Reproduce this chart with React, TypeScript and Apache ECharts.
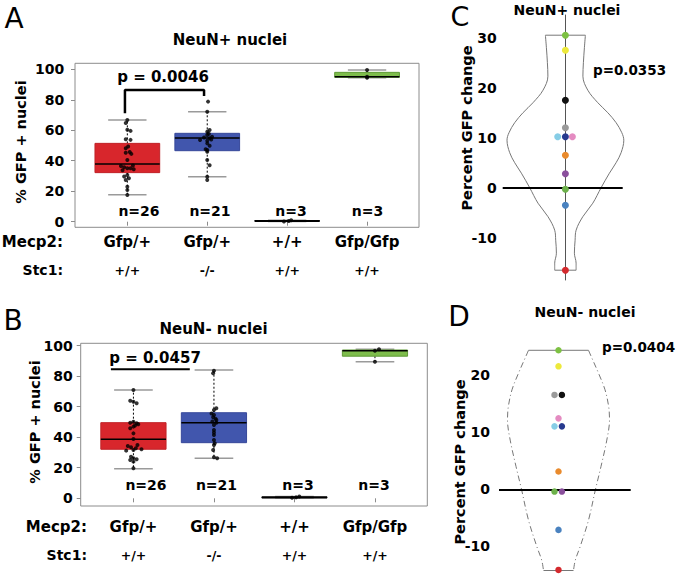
import React, { useEffect, useRef } from 'react';
import * as echarts from 'echarts';

const FONT = 'DejaVu Sans';

// ---------- Panels A & B: categories ----------
const mecp2Labels = ['Gfp/+', 'Gfp/+', '+/+', 'Gfp/Gfp'];
const stc1Labels = ['+/+', '-/-', '+/+', '+/+'];
const groupFill = ['#d8262c', '#4156ad', '#666666', '#7ebd4c'];
const groupStroke = ['#c02328', '#37489a', '#000000', '#5f9a36'];
const yTicksAB = [0, 20, 40, 60, 80, 100];

// box stats: [low whisker, Q1, median, Q3, high whisker]
const boxA = [
  [17.7, 32.2, 37.9, 51.4, 66.7],
  [29.5, 46.6, 54.9, 58.0, 72.2],
  [0.2, 0.35, 0.5, 0.7, 0.9],
  [94.4, 94.75, 95.1, 98.0, 99.5],
];
const boxB = [
  [19.4, 32.1, 38.6, 49.5, 70.9],
  [26.2, 36.4, 49.5, 56.0, 84.0],
  [0.3, 0.45, 0.6, 0.9, 1.2],
  [89.4, 93.0, 96.6, 97.05, 97.5],
];

// individual points (% GFP+ nuclei) and horizontal jitter (category units)
const ptsA1 = [66.7, 64.7, 60.3, 59.6, 54.1, 53.7, 49.3, 48.2, 45.8, 45.3, 44.5, 40.5, 36.9, 36.6, 35.7, 35.1, 35.1, 34.4, 33.8, 30.7, 29.6, 28.5, 27.4, 23.0, 20.8, 17.5];
const jitA1 = [0, -0.02, 0, 0.04, -0.02, 0.04, 0.01, -0.02, 0.03, -0.02, 0.05, 0, 0.07, -0.08, -0.04, 0, 0.04, 0.08, -0.06, 0, -0.04, 0.02, -0.02, 0, 0, 0];
const ptsA2 = [78.8, 72.2, 60.2, 59.1, 57.7, 56.9, 55.8, 55.2, 54.7, 53.9, 53.6, 53.1, 51.4, 49.9, 47.6, 47.0, 45.9, 40.5, 37.1, 29.5, 27.3];
const jitA2 = [0.01, 0, 0.03, 0, 0.02, 0, 0.06, -0.04, 0.03, 0.05, -0.09, 0, 0, 0.03, -0.02, 0, 0, 0, 0.03, 0, 0];
const ptsA3 = [0.2, 0.5, 0.9];
const jitA3 = [-0.04, 0.02, 0.05];
const ptsA4 = [99.5, 95.1, 94.4];
const jitA4 = [0, 0, 0];

const ptsB1 = [70.9, 63.9, 63.2, 62.2, 50.1, 49.5, 49.1, 48.4, 47.6, 46.9, 45.8, 42.5, 38.8, 34.9, 34.2, 33.4, 32.7, 32.1, 31.6, 31.2, 27.2, 26.2, 25.5, 25.0, 24.0, 19.6];
const jitB1 = [0, -0.04, 0, 0.04, 0, -0.04, 0.04, 0.06, 0.02, 0, -0.04, 0, 0, 0.05, -0.07, -0.03, 0.03, 0.1, 0, -0.09, -0.03, 0, 0.04, -0.04, 0, 0];
const ptsB2 = [83.5, 81.8, 58.9, 57.8, 55.5, 54.5, 53.0, 52.0, 51.2, 50.2, 49.5, 48.0, 44.7, 43.0, 41.4, 38.2, 36.0, 34.9, 31.6, 26.8, 26.2];
const jitB2 = [0, -0.01, 0.03, 0, -0.03, 0, -0.01, 0.02, 0.03, -0.02, 0.03, 0, 0, 0, 0, 0, 0.01, 0, -0.01, 0, 0.04];
const ptsB3 = [0.3, 0.6, 1.2];
const jitB3 = [-0.03, 0.02, 0.06];
const ptsB4 = [97.5, 96.6, 89.4];
const jitB4 = [0.05, 0, 0];

const pValueA = 'p = 0.0046';
const pValueB = 'p = 0.0457';
// bracket (A) and bar (B) in data units: [category x, value]
const bracketA = [[0.97, 71.1], [0.97, 86.4], [1.96, 86.4], [1.96, 82.5]];
const barB = [[0.72, 84.4], [1.7, 84.4]];

// ---------- Panels C & D: violins ----------
const violinCv = [30.5, 28, 25, 22.3, 19.5, 17, 15, 13, 11, 9.5, 7, 5, 2.9, 0, -3.1, -5.8, -8.5, -10.5, -13.1, -15.1, -16.5];
const violinChw = [20, 19, 18, 17.5, 22.4, 32.4, 42.4, 50.7, 56.4, 58.4, 55.7, 50.7, 44, 35.7, 27.4, 17.4, 10.7, 9.7, 9, 10.7, 10.7];
const violinDv = [24.3, 22.9, 20.3, 17.4, 14.4, 12.1, 8.6, 4, 0, -5.4, -10, -12.4, -14.2];
const violinDhw = [30, 33.5, 40, 46.5, 50.2, 51, 48.3, 42.5, 37, 30, 21.7, 16.8, 15];

const dotColorsC = ['#7dc142', '#ede93b', '#111111', '#9a9a9a', '#86cde6', '#273a8f', '#e48bc1', '#e98a2c', '#8a4f9c', '#6cb14a', '#4a82bf', '#d42a2e'];
const dotValuesC = [30.5, 27.5, 17.5, 12.0, 10.2, 10.2, 10.2, 6.5, 2.8, -0.3, -3.5, -16.5];
const dotOffsetC = [0, 0, 0, 0, -7.7, 0, 7, 0, 0, 0, 0, 0];

const dotColorsD = ['#7dc142', '#ede93b', '#9a9a9a', '#111111', '#e48bc1', '#86cde6', '#273a8f', '#e98a2c', '#6cb14a', '#8a4f9c', '#4a82bf', '#d42a2e'];
const dotValuesD = [24.3, 21.5, 16.5, 16.5, 12.4, 11.0, 11.0, 3.1, -0.4, -0.4, -7.1, -14.1];
const dotOffsetD = [0, 0, -4, 3.4, 0, -4, 3.4, 0, -4, 3.4, 0, 0];

const yTicksC = [-10, 0, 10, 20, 30];
const yTicksD = [-10, 0, 10, 20];
const pValueC = 'p=0.0353';
const pValueD = 'p=0.0404';

const X_MIN = 0.345;
const X_MAX = 4.65;
const CATS = [1, 2, 3, 4];

function txt(text: string, x: number, y: number, size: number, opts: any = {}) {
  return {
    type: 'text',
    x,
    y,
    rotation: opts.rotation || 0,
    silent: true,
    style: {
      text,
      fill: '#000',
      fontFamily: opts.family || FONT,
      fontSize: size,
      fontWeight: opts.weight || 'bold',
      align: opts.align || 'center',
      verticalAlign: 'middle',
    },
  };
}

function catAxis(gridIndex: number, labels: string[], margin: number, size: number, ticks: boolean) {
  return {
    type: 'value',
    gridIndex,
    min: X_MIN,
    max: X_MAX,
    position: 'bottom',
    splitLine: { show: false },
    axisLine: { show: false },
    axisTick: { show: ticks, customValues: CATS, length: 4, lineStyle: { color: '#8c8c8c' } },
    axisLabel: {
      customValues: CATS,
      formatter: (v: number) => labels[Math.round(v) - 1] || '',
      margin,
      fontFamily: FONT,
      fontWeight: 'bold',
      fontSize: size,
      color: '#000',
    },
  };
}

function pctAxis(gridIndex: number, min: number, max: number, margin: number) {
  return {
    type: 'value',
    gridIndex,
    min,
    max,
    splitLine: { show: false },
    axisLine: { show: false },
    axisTick: { show: true, customValues: yTicksAB, length: 4, lineStyle: { color: '#8c8c8c' } },
    axisLabel: { customValues: yTicksAB, margin, fontFamily: FONT, fontWeight: 'bold', fontSize: 14, color: '#000' },
  };
}

function boxSeries(boxes: number[][], xi: number, yi: number) {
  const BOX_HALF = 0.405;
  const CAP_HALF = 0.24;
  return {
    type: 'custom',
    xAxisIndex: xi,
    yAxisIndex: yi,
    silent: true,
    z: 2,
    data: boxes.map((b, i) => [i + 1, ...b]),
    encode: { x: 0, y: [1, 2, 3, 4, 5] },
    renderItem: (params: any, api: any) => {
      const i = params.dataIndex;
      const x = api.value(0);
      const low = api.value(1);
      const q1 = api.value(2);
      const med = api.value(3);
      const q3 = api.value(4);
      const high = api.value(5);
      const c = (xx: number, yy: number) => api.coord([xx, yy]);
      const seg = (a: number[], b: number[], style: any) => ({
        type: 'line',
        shape: { x1: a[0], y1: a[1], x2: b[0], y2: b[1] },
        style,
      });
      const whisk = { stroke: '#000', lineWidth: 1, lineDash: [2, 2] };
      const cap = { stroke: '#9a9a9a', lineWidth: 1.5 };
      const tl = c(x - BOX_HALF, q3);
      const br = c(x + BOX_HALF, q1);
      const children: any[] = [];
      if (high > q3) children.push(seg(c(x, q3), c(x, high), whisk));
      if (low < q1) children.push(seg(c(x, q1), c(x, low), whisk));
      children.push(seg(c(x - CAP_HALF, high), c(x + CAP_HALF, high), cap));
      children.push(seg(c(x - CAP_HALF, low), c(x + CAP_HALF, low), cap));
      children.push({
        type: 'rect',
        shape: { x: tl[0], y: tl[1], width: br[0] - tl[0], height: Math.max(br[1] - tl[1], 0.5) },
        style: { fill: groupFill[i], stroke: groupStroke[i], lineWidth: 1 },
      });
      children.push(seg(c(x - BOX_HALF, med), c(x + BOX_HALF, med), { stroke: '#000', lineWidth: i === 2 ? 2 : 1.5 }));
      return { type: 'group', children };
    },
  };
}

function pointSeries(groups: number[][], jit: number[][], xi: number, yi: number) {
  const data: number[][] = [];
  groups.forEach((vals, g) => vals.forEach((v, k) => data.push([g + 1 + jit[g][k], v])));
  return {
    type: 'scatter',
    xAxisIndex: xi,
    yAxisIndex: yi,
    symbol: 'circle',
    symbolSize: 4,
    itemStyle: { color: '#000' },
    silent: true,
    z: 5,
    data,
  };
}

function pathSeries(data: number[][], xi: number, yi: number, width: number) {
  return {
    type: 'line',
    xAxisIndex: xi,
    yAxisIndex: yi,
    symbol: 'none',
    silent: true,
    clip: false,
    z: 4,
    data,
    lineStyle: { color: '#000', width },
  };
}

function violinSeries(vArr: number[], hwArr: number[], xi: number, yi: number, sideType: any) {
  const side = (sign: number) => ({
    type: 'line',
    xAxisIndex: xi,
    yAxisIndex: yi,
    symbol: 'none',
    smooth: 0.35,
    silent: true,
    clip: false,
    z: 2,
    data: vArr.map((v, k) => [sign * hwArr[k], v]),
    lineStyle: { color: '#777', width: 1, type: sideType },
  });
  const last = vArr.length - 1;
  const edge = (k: number, withZero: boolean) => ({
    type: 'line',
    xAxisIndex: xi,
    yAxisIndex: yi,
    symbol: 'none',
    silent: true,
    clip: false,
    z: 2,
    data: [[-hwArr[k], vArr[k]], [hwArr[k], vArr[k]]],
    lineStyle: { color: '#777', width: 1 },
    markLine: withZero
      ? {
          silent: true,
          symbol: ['none', 'none'],
          label: { show: false },
          lineStyle: { color: '#000', width: 2, type: 'solid' },
          data: [{ yAxis: 0 }],
        }
      : undefined,
  });
  return [side(-1), side(1), edge(0, true), edge(last, false)];
}

function dotSeries(vals: number[], offs: number[], cols: string[], xi: number, yi: number, size: number) {
  return {
    type: 'scatter',
    xAxisIndex: xi,
    yAxisIndex: yi,
    symbolSize: size,
    silent: true,
    clip: false,
    z: 6,
    data: vals.map((v, k) => ({ value: [offs[k], v], itemStyle: { color: cols[k], opacity: 1 } })),
  };
}

function buildOption(): any {
  const groupsA = [ptsA1, ptsA2, ptsA3, ptsA4];
  const jitsA = [jitA1, jitA2, jitA3, jitA4];
  const groupsB = [ptsB1, ptsB2, ptsB3, ptsB4];
  const jitsB = [jitB1, jitB2, jitB3, jitB4];

  const nPosA = [139, 210, 291, 367.5];
  const nPosB = [146, 216.5, 298, 374];

  const graphic: any[] = [
    txt('A', 14, 18, 28, { weight: 'normal' }),
    txt('B', 13, 320, 28, { weight: 'normal' }),
    txt('C', 460, 16, 27, { weight: 'normal' }),
    txt('D', 459, 316, 28, { weight: 'normal' }),
    txt('NeuN+ nuclei', 230, 40, 15),
    txt('NeuN- nuclei', 213.5, 329, 15),
    txt('NeuN+ nuclei', 567, 10, 14),
    txt('NeuN- nuclei', 585, 312, 14),
    txt('% GFP + nuclei', 21, 142, 14.5, { rotation: Math.PI / 2 }),
    txt('% GFP + nuclei', 35, 422, 14.5, { rotation: Math.PI / 2 }),
    txt('Percent GFP change', 467, 128, 14.5, { rotation: Math.PI / 2 }),
    txt('Percent GFP change', 460, 462, 14.5, { rotation: Math.PI / 2 }),
    txt('Mecp2:', 63, 242, 15, { align: 'right' }),
    txt('Stc1:', 63, 270, 14, { align: 'right' }),
    txt('Mecp2:', 87, 526.7, 15, { align: 'right' }),
    txt('Stc1:', 87, 555, 14, { align: 'right' }),
    txt(pValueA, 163, 77.3, 15),
    txt(pValueB, 155, 358.3, 15),
    txt(pValueC, 629.5, 70, 13.5),
    txt(pValueD, 638.5, 346.7, 13.5),
  ];
  groupsA.forEach((g, i) => graphic.push(txt('n=' + g.length, nPosA[i], 211, 14)));
  groupsB.forEach((g, i) => graphic.push(txt('n=' + g.length, nPosB[i], 485, 14)));

  return {
    animation: false,
    backgroundColor: '#ffffff',
    textStyle: { fontFamily: FONT },
    grid: [
      { left: 75, top: 63.3, width: 344, height: 164, show: true, borderColor: '#8c8c8c', borderWidth: 1, backgroundColor: 'transparent' },
      { left: 80.7, top: 343.3, width: 346.6, height: 162.7, show: true, borderColor: '#8c8c8c', borderWidth: 1, backgroundColor: 'transparent' },
      { left: 502.7, top: 15, width: 120, height: 265 },
      { left: 499, top: 340, width: 131.7, height: 236 },
    ],
    xAxis: [
      catAxis(0, mecp2Labels, 7.2, 15, true),
      catAxis(0, stc1Labels, 36.5, 12.5, false),
      catAxis(1, mecp2Labels, 13.2, 15, true),
      catAxis(1, stc1Labels, 42.8, 12.5, false),
      { type: 'value', gridIndex: 2, min: -62.7, max: 57.3, show: false },
      { type: 'value', gridIndex: 3, min: -59.5, max: 72.2, show: false },
    ],
    yAxis: [
      pctAxis(0, -3.67, 103.94, 10.7),
      pctAxis(1, -5.04, 101.44, 8),
      {
        type: 'value',
        gridIndex: 2,
        min: -18.46,
        max: 34.54,
        splitLine: { show: false },
        axisLine: { show: true, lineStyle: { color: '#555', width: 1 } },
        axisTick: { show: false },
        axisLabel: { customValues: yTicksC, margin: 6, fontFamily: FONT, fontWeight: 'bold', fontSize: 14, color: '#000' },
      },
      {
        type: 'value',
        gridIndex: 3,
        min: -15.16,
        max: 26.1,
        splitLine: { show: false },
        axisLine: { show: false },
        axisTick: { show: false },
        axisLabel: { customValues: yTicksD, margin: 9, fontFamily: FONT, fontWeight: 'bold', fontSize: 14, color: '#000' },
      },
    ],
    graphic,
    series: [
      boxSeries(boxA, 0, 0),
      pointSeries(groupsA, jitsA, 0, 0),
      pathSeries(bracketA, 0, 0, 2.5),
      boxSeries(boxB, 2, 1),
      pointSeries(groupsB, jitsB, 2, 1),
      pathSeries(barB, 2, 1, 2),
      ...violinSeries(violinCv, violinChw, 4, 2, 'solid'),
      dotSeries(dotValuesC, dotOffsetC, dotColorsC, 4, 2, 7),
      ...violinSeries(violinDv, violinDhw, 5, 3, [6, 3, 1, 3]),
      dotSeries(dotValuesD, dotOffsetD, dotColorsD, 5, 3, 6.5),
    ],
  };
}

export default function App() {
  const ref = useRef<HTMLDivElement>(null);
  useEffect(() => {
    const chart = echarts.init(ref.current as HTMLDivElement, null, { renderer: 'svg' });
    chart.setOption(buildOption());
    return () => chart.dispose();
  }, []);
  return (
    <div
      ref={ref}
      style={{ position: 'fixed', left: 0, top: 0, width: 677, height: 576, background: '#fff' }}
    />
  );
}
